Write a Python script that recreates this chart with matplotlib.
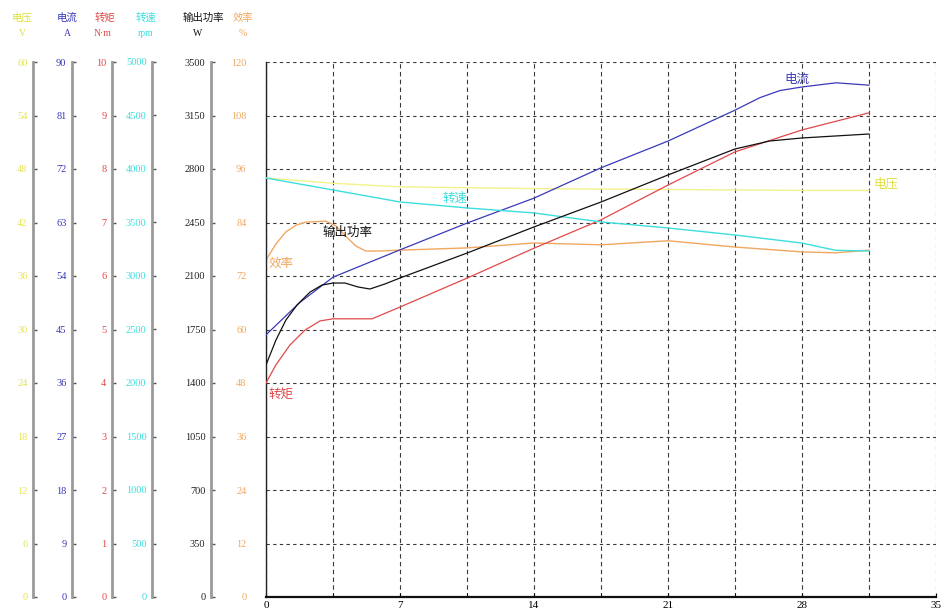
import matplotlib
matplotlib.use("Agg")
import matplotlib.pyplot as plt
import numpy as np

plt.rcParams['font.family'] = ['Noto Sans CJK SC', 'DejaVu Sans']

# ---------------- data ----------------
x_ticks = [0, 7, 14, 21, 28, 35]

voltage_x = [0, 3.5, 7, 10.5, 14, 21, 28, 31.5]
voltage_v = [47.0, 46.4, 46.0, 45.9, 45.8, 45.7, 45.6, 45.6]

current_x = [0, 1.75, 3.5, 7, 10.5, 14, 17.5, 21, 24.5, 25.8, 26.85, 28, 29.78, 31.5]
current_a = [44.1, 49.5, 53.8, 58.4, 62.9, 67.1, 72.2, 76.7, 81.9, 84.0, 85.2, 85.8, 86.5, 86.1]

torque_x = [0, 0.52, 1.25, 2.04, 2.82, 3.5, 5.54, 7, 10.5, 14, 17.5, 21, 24.5, 28, 31.5]
torque_nm = [4.0, 4.34, 4.71, 4.99, 5.16, 5.20, 5.20, 5.42, 5.96, 6.52, 7.05, 7.70, 8.32, 8.73, 9.05]

speed_x = [0, 3.5, 7, 10.5, 14, 17.5, 21, 24.5, 28, 29.75, 31.5]
speed_rpm = [3916, 3804, 3692, 3636, 3589, 3505, 3449, 3383, 3308, 3240, 3234]

power_x = [0, 0.52, 1.04, 1.62, 2.30, 2.93, 3.5, 4.13, 4.81, 5.43, 6.22, 7, 10.5, 14, 17.5,
           21, 24.5, 26.3, 28, 31.5]
power_w = [1518, 1681, 1812, 1910, 1995, 2041, 2054, 2054, 2028, 2015, 2048, 2087, 2250, 2421,
           2584, 2761, 2931, 2983, 3003, 3029]

eff_x = [0, 0.52, 1.04, 1.57, 2.09, 3.13, 3.66, 4.18, 4.70, 5.22, 5.96, 7, 10.5, 14, 17.5,
         21, 24.5, 28, 29.75, 31.5]
eff_pct = [75.6, 79.2, 81.9, 83.4, 84.1, 84.3, 83.2, 80.9, 78.7, 77.6, 77.6, 77.8, 78.3, 79.4,
           79.0, 79.9, 78.5, 77.4, 77.2, 77.8]

voltage_ticks = [0, 6, 12, 18, 24, 30, 36, 42, 48, 54, 60]
current_ticks = [0, 9, 18, 27, 36, 45, 54, 63, 72, 81, 90]
torque_ticks = [0, 1, 2, 3, 4, 5, 6, 7, 8, 9, 10]
speed_ticks = [0, 500, 1000, 1500, 2000, 2500, 3000, 3500, 4000, 4500, 5000]
power_ticks = [0, 350, 700, 1050, 1400, 1750, 2100, 2450, 2800, 3150, 3500]
eff_ticks = [0, 12, 24, 36, 48, 60, 72, 84, 96, 108, 120]

names = ['电压', '电流', '转矩', '转速', '输出功率', '效率']
units = ['V', 'A', 'N·m', 'rpm', 'W', '%']

# ---------------- style ----------------
C_V = '#e6e650'
C_A = '#3a3ab8'
C_T = '#e04a4a'
C_S = '#3ddede'
C_P = '#111111'
C_E = '#f0a860'
SERIF = ['Liberation Serif', 'DejaVu Serif']

W, H = 941, 613
fig = plt.figure(figsize=(W / 100, H / 100), dpi=100)
L, R, B, T = 266, 936, 597, 62
rect = [L / W, 1 - B / H, (R - L) / W, (B - T) / H]
width_px = R - L

ax = fig.add_axes(rect)
ax.set_xlim(0, 35)
ax.set_ylim(0, 120)
ax.set_xticks(x_ticks)
ax.set_xticks(np.arange(3.5, 35, 7), minor=True)
ax.set_yticks(eff_ticks)
for s in ['top', 'right']:
    ax.spines[s].set_visible(False)
ax.spines['left'].set_color('#222222')
ax.spines['bottom'].set_color('#111111')
ax.spines['bottom'].set_linewidth(1.6)
ax.spines['left'].set_linewidth(1.0)
ax.tick_params(axis='x', which='both', direction='in', length=3, labelsize=8, pad=3)
ax.tick_params(axis='y', direction='in', length=0, labelsize=7.5, pad=14, labelcolor=C_E)
for lab in ax.get_xticklabels() + ax.get_yticklabels():
    lab.set_fontfamily(SERIF)
ax.grid(True, axis='x', which='both', color='#3a3a3a', linestyle=(0, (4, 3)), linewidth=0.8)
ax.grid(True, axis='y', which='major', color='#3a3a3a', linestyle=(0, (3, 3)), linewidth=0.8)


def overlay(ymax, ticks, pos_px, labcolor):
    a = fig.add_axes(rect, sharex=ax)
    a.patch.set_visible(False)
    a.set_ylim(0, ymax)
    a.set_yticks(ticks)
    for s in ['top', 'right', 'bottom']:
        a.spines[s].set_visible(False)
    a.spines['left'].set_position(('axes', (pos_px - L) / width_px))
    a.spines['left'].set_color('#9a9a9a')
    a.spines['left'].set_linewidth(2.0)
    a.tick_params(axis='x', which='both', bottom=False, labelbottom=False)
    a.tick_params(axis='y', direction='in', length=3, width=1, color='#555555',
                  labelsize=7.5, pad=4, labelcolor=labcolor)
    for lab in a.get_yticklabels():
        lab.set_fontfamily(SERIF)
    return a


ax_v = overlay(60, voltage_ticks, 33, C_V)
ax_a = overlay(90, current_ticks, 72, C_A)
ax_t = overlay(10, torque_ticks, 112, C_T)
ax_s = overlay(5000, speed_ticks, 152, C_S)
ax_p = overlay(3500, power_ticks, 211, '#222222')

ax_v.plot(voltage_x, voltage_v, color='#f2f28a', lw=1.0)
ax_s.plot(speed_x, speed_rpm, color=C_S, lw=1.0)
ax.plot(eff_x, eff_pct, color=C_E, lw=1.0)
ax_t.plot(torque_x, torque_nm, color=C_T, lw=0.9)
ax_p.plot(power_x, power_w, color=C_P, lw=0.9)
ax_a.plot(current_x, current_a, color=C_A, lw=0.9)

# curve labels
ax.text(27.74, 116.2, '电流', color=C_A, fontsize=9, ha='center', va='center')
ax.text(31.75, 92.6, '电压', color='#e0e040', fontsize=9, ha='left', va='center')
ax.text(9.87, 89.5, '转速', color=C_S, fontsize=9, ha='center', va='center')
ax.text(4.23, 81.9, '输出功率', color=C_P, fontsize=9, ha='center', va='center')
ax.text(0.78, 74.9, '效率', color=C_E, fontsize=9, ha='center', va='center')
ax.text(0.78, 45.5, '转矩', color=C_T, fontsize=9, ha='center', va='center')

# header
hx = [22, 67, 105, 146, 203, 243]
hcol = ['#e0e040', C_A, C_T, C_S, C_P, C_E]
ux = [22, 67, 103, 146, 198, 243]
for n, u, x1, x2, c in zip(names, units, hx, ux, hcol):
    fig.text(x1 / W, 1 - 18 / H, n, color=c, fontsize=7.5, ha='center', va='center')
    fig.text(x2 / W, 1 - 33 / H, u, color=c, fontsize=7, ha='center', va='center',
             fontfamily=SERIF)

fig.savefig('out.png', dpi=100)
